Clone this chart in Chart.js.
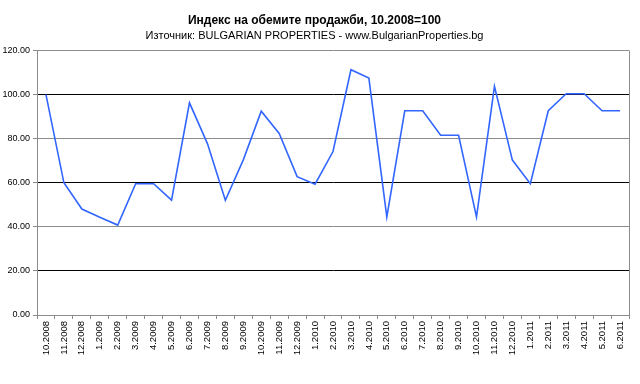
<!DOCTYPE html>
<html>
<head>
<meta charset="utf-8">
<script src="https://cdn.jsdelivr.net/npm/chart.js@4"></script>
<style>
html,body{margin:0;padding:0;background:#fff;}
#wrap{width:640px;height:384px;}
</style>
</head>
<body>
<div id="wrap"><canvas id="c" width="640" height="384"></canvas></div>
<script>
const categories = ["10.2008","11.2008","12.2008","1.2009","2.2009","3.2009","4.2009","5.2009","6.2009","7.2009","8.2009","9.2009","10.2009","11.2009","12.2009","1.2010","2.2010","3.2010","4.2010","5.2010","6.2010","7.2010","8.2010","9.2010","10.2010","11.2010","12.2010","1.2011","2.2011","3.2011","4.2011","5.2011","6.2011"];
const indexValues = [100,60,48.1,44.4,40.8,59.6,59.6,52.1,96.3,77.8,52.1,70.4,92.5,82.4,62.8,59.4,74.2,111.3,107.5,44.5,92.7,92.7,81.6,81.6,44.5,103.8,70.3,59.6,92.7,100.4,100.4,92.7,92.7];
const yTicks = [0,20,40,60,80,100,120];
const titleText = "Индекс на обемите продажби, 10.2008=100";
const subtitleText = "Източник: BULGARIAN PROPERTIES - www.BulgarianProperties.bg";

const FONT = "'Liberation Sans', Arial, sans-serif";

const frame = {
  id: 'frame',
  afterDraw(chart) {
    const a = chart.chartArea, ctx = chart.ctx;
    ctx.save();
    ctx.strokeStyle = '#8c8c8c';
    ctx.lineWidth = 1;
    ctx.beginPath();
    ctx.moveTo(Math.round(a.right) + 0.5, a.top);
    ctx.lineTo(Math.round(a.right) + 0.5, a.bottom + 4);
    ctx.stroke();
    ctx.restore();
  }
};

new Chart(document.getElementById('c'), {
  type: 'line',
  data: {
    labels: categories,
    datasets: [{
      data: indexValues,
      borderColor: '#3366ff',
      borderWidth: 1.6,
      pointRadius: 0,
      tension: 0,
      fill: false
    }]
  },
  options: {
    responsive: false,
    animation: false,
    layout: { padding: { left: 0, right: 11, top: 0, bottom: 0 } },
    plugins: {
      legend: { display: false },
      tooltip: { enabled: false },
      title: {
        display: true, text: titleText, color: '#000',
        font: { family: FONT, size: 12, weight: 'bold', lineHeight: 1.2 },
        padding: { top: 13, bottom: 1 }
      },
      subtitle: {
        display: true, text: subtitleText, color: '#000',
        font: { family: FONT, size: 11, weight: 'normal', lineHeight: 1.2 },
        padding: { top: 1, bottom: 8 }
      }
    },
    scales: {
      x: {
        type: 'category',
        offset: true,
        grid: { offset: true, drawOnChartArea: false, drawTicks: true, tickLength: 4, tickColor: '#8c8c8c' },
        border: { color: '#8c8c8c', width: 1 },
        ticks: {
          autoSkip: false, maxRotation: 90, minRotation: 90,
          color: '#000', padding: 2,
          font: { family: FONT, size: 9.5 }
        },
        afterFit(s) { s.height = 69; }
      },
      y: {
        min: 0, max: 120,
        afterBuildTicks(s) { s.ticks = yTicks.map(v => ({ value: v })); },
        grid: {
          color: ctx => {
            const v = ctx.tick ? ctx.tick.value : null;
            if (v === 0) return 'rgba(0,0,0,0)';
            if (v === 80 || v === 40 || v === 120) return '#8c8c8c';
            return '#000';
          },
          tickColor: '#8c8c8c', tickLength: 4, lineWidth: 1
        },
        border: { color: '#8c8c8c', width: 1 },
        ticks: {
          color: '#000', padding: 3,
          font: { family: FONT, size: 9 },
          callback: v => Number(v).toFixed(2)
        },
        afterFit(s) { s.width = 37; }
      }
    }
  },
  plugins: [frame]
});
</script>
</body>
</html>
